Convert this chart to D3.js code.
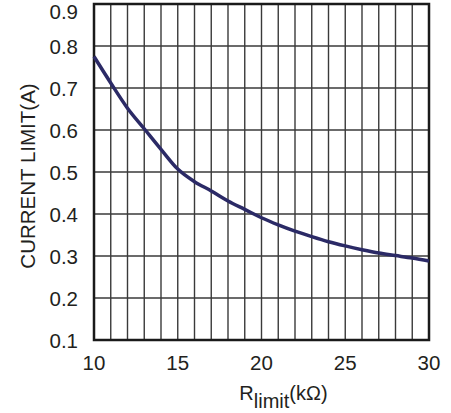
<!DOCTYPE html>
<html>
<head>
<meta charset="utf-8">
<script src="https://cdn.jsdelivr.net/npm/d3@7"></script>
<style>
  body { margin: 0; background: #fff; }
  text { font-family: "Liberation Sans", Arial, sans-serif; fill: #231f20; }
</style>
</head>
<body>
<div id="chart"></div>
<script>
// values
const rLimit = [10, 11, 12, 13, 14, 15, 16, 17, 18, 19, 20, 21, 22, 23, 24, 25, 26, 27, 28, 29, 30];
const currentLimit = [0.775, 0.712, 0.652, 0.603, 0.554, 0.507, 0.477, 0.455, 0.431, 0.411, 0.391, 0.374, 0.359, 0.346, 0.334, 0.324, 0.315, 0.307, 0.301, 0.295, 0.288];
const xTicks = [10, 15, 20, 25, 30];
const yTicks = [0.1, 0.2, 0.3, 0.4, 0.5, 0.6, 0.7, 0.8, 0.9];

const W = 451, H = 413;
const margin = { top: 4, right: 22, bottom: 73, left: 94 };
const width = W - margin.left - margin.right;
const height = H - margin.top - margin.bottom;

const svg = d3.select("#chart").append("svg")
  .attr("width", W)
  .attr("height", H);

const g = svg.append("g")
  .attr("transform", `translate(${margin.left},${margin.top})`);

const x = d3.scaleLinear().domain([10, 30]).range([0, width]);
const y = d3.scaleLinear().domain([0.1, 0.9]).range([height, 0]);

// grid, one line every 1 kOhm and every 0.1 A
g.selectAll(".vgrid")
  .data(d3.range(11, 30))
  .enter().append("line")
  .attr("class", "vgrid")
  .attr("x1", d => x(d)).attr("x2", d => x(d))
  .attr("y1", 0).attr("y2", height)
  .style("stroke", "#3a3a3a")
  .style("stroke-width", 1.4);

g.selectAll(".hgrid")
  .data(yTicks.slice(1, -1))
  .enter().append("line")
  .attr("class", "hgrid")
  .attr("x1", 0).attr("x2", width)
  .attr("y1", d => y(d)).attr("y2", d => y(d))
  .style("stroke", "#3a3a3a")
  .style("stroke-width", 1.4);

g.append("rect")
  .attr("width", width)
  .attr("height", height)
  .style("fill", "none")
  .style("stroke", "#1a1a1a")
  .style("stroke-width", 2.5);

// curve
const line = d3.line()
  .x((d, i) => x(rLimit[i]))
  .y(d => y(d))
  .curve(d3.curveMonotoneX);

g.append("path")
  .datum(currentLimit)
  .attr("d", line)
  .style("fill", "none")
  .style("stroke", "#2b2a66")
  .style("stroke-width", 3.5);

// tick labels
g.selectAll(".ylab")
  .data(yTicks)
  .enter().append("text")
  .attr("class", "ylab")
  .attr("x", -16)
  .attr("y", d => Math.max(y(d) + 1, 8))
  .attr("dy", "0.35em")
  .attr("text-anchor", "end")
  .style("font-size", "20.5px")
  .text(d => d3.format(".1f")(d));

g.selectAll(".xlab")
  .data(xTicks)
  .enter().append("text")
  .attr("class", "xlab")
  .attr("x", d => x(d))
  .attr("y", height + 30)
  .attr("text-anchor", "middle")
  .style("font-size", "20.5px")
  .text(d => d);

// axis titles
const xt = g.append("text")
  .attr("x", x(20) + 22)
  .attr("y", height + 60)
  .attr("text-anchor", "middle")
  .style("font-size", "20px");
xt.append("tspan").text("R");
xt.append("tspan").attr("dy", 8).text("limit");
xt.append("tspan").attr("dy", -8).text("(kΩ)");

g.append("text")
  .attr("transform", `translate(-59,${y(0.5) + 4}) rotate(-90)`)
  .attr("text-anchor", "middle")
  .style("font-size", "20.5px")
  .text("CURRENT LIMIT(A)");
</script>
</body>
</html>
